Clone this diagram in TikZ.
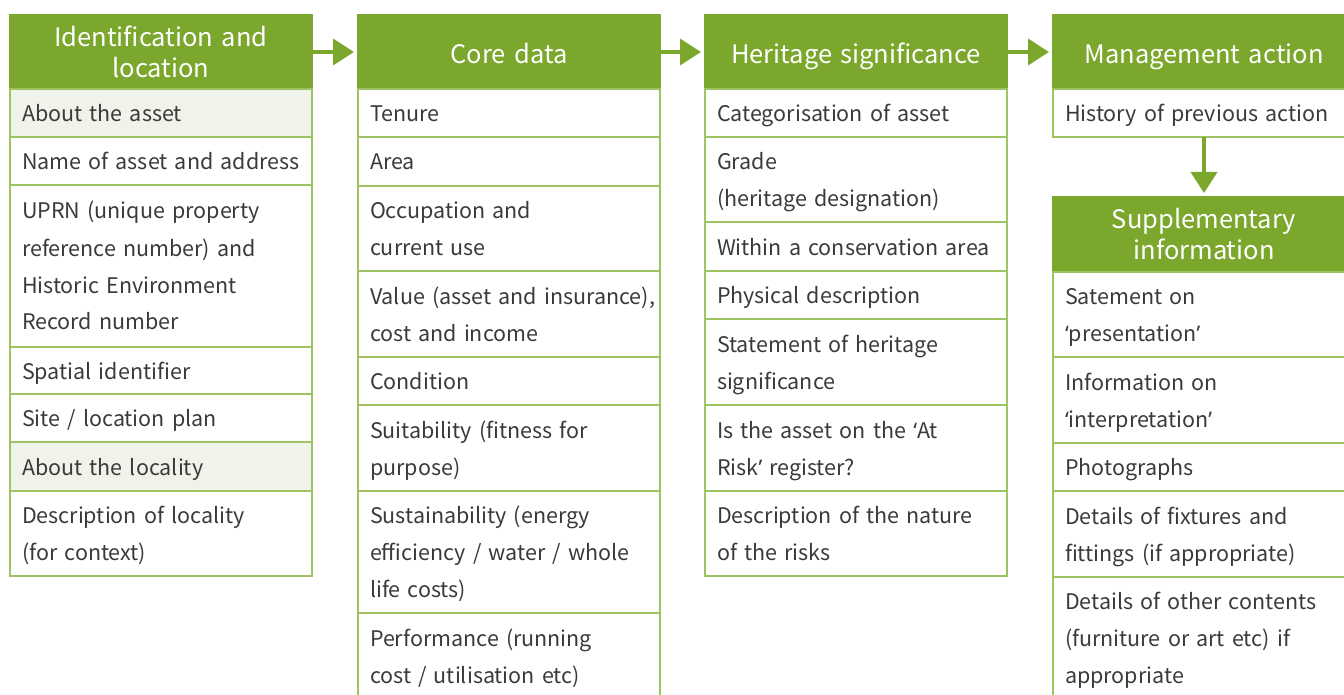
\documentclass[tikz,border=0pt]{standalone}
\usepackage{fontspec}
\setmainfont{Noto Sans CJK SC}
\newfontfamily\qfont{Noto Sans}
\newcommand\qop{{\qfont ‘}}
\newcommand\qcl{{\qfont ’}}
\usetikzlibrary{arrows.meta}
\definecolor{hgreen}{HTML}{7BA72C}
\definecolor{lgreen}{HTML}{9EC462}
\definecolor{rowfill}{HTML}{F0F3E9}
\definecolor{txt}{HTML}{3A3A3A}
\hyphenpenalty=10000
\exhyphenpenalty=10000
\tikzset{
  rowbox/.style={draw=lgreen, line width=1.2pt, anchor=north west, align=left, outer sep=0pt,
    text width=278pt, inner xsep=12pt, inner ysep=0pt, text=txt,
    font=\fontsize{21.5}{37}\selectfont,
    execute at begin node={\rule{0pt}{23pt}},
    execute at end node={\rule[-6pt]{0pt}{6pt}}},
  hdrbox/.style={fill=hgreen, draw=hgreen, line width=1.2pt, anchor=north west, align=center, outer sep=0pt,
    text width=278pt, inner xsep=12pt, inner ysep=0pt, text=white, minimum height=74pt,
    font=\fontsize{25.5}{31}\selectfont},
  onehdr/.style={hdrbox, text height=28pt, text depth=4pt},
  flow/.style={draw=hgreen, line width=4pt, -{Triangle[length=21pt,width=26pt]}, shorten >=4pt},
}
\begin{document}
\begin{tikzpicture}[x=1pt,y=-1pt]
\useasboundingbox (0,0) rectangle (1344,695);
\clip (0,0) rectangle (1344,695);
% Column 1
\node[hdrbox] (h1) at (10,15) {Identification and\\location};
\node[rowbox, fill=rowfill, minimum height=48pt] (a1) at (h1.south west) {About the asset};
\node[rowbox, minimum height=48pt] (a2) at (a1.south west) {Name~of~asset~and~address};
\node[rowbox, minimum height=162pt] (a3) at (a2.south west) {UPRN (unique property\\reference number) and\\Historic Environment\\Record number};
\node[rowbox, minimum height=47pt] (a4) at (a3.south west) {Spatial identifier};
\node[rowbox, minimum height=48pt] (a5) at (a4.south west) {Site / location plan};
\node[rowbox, fill=rowfill, minimum height=49pt] (a6) at (a5.south west) {About the locality};
\node[rowbox, minimum height=85pt] (a7) at (a6.south west) {Description of locality\\(for context)};
% Column 2
\node[onehdr] (h2) at (358,15) {Core data};
\node[rowbox, minimum height=48pt] (b1) at (h2.south west) {Tenure};
\node[rowbox, minimum height=49pt] (b2) at (b1.south west) {Area};
\node[rowbox, minimum height=85pt] (b3) at (b2.south west) {Occupation and\\current use};
\node[rowbox, minimum height=86pt] (b4) at (b3.south west) {Value~(asset~and~insurance),\\cost and income};
\node[rowbox, minimum height=48pt] (b5) at (b4.south west) {Condition};
\node[rowbox, minimum height=86pt] (b6) at (b5.south west) {Suitability~(fitness~for\\purpose)};
\node[rowbox, minimum height=122pt] (b7) at (b6.south west) {Sustainability~(energy\\efficiency~/~water~/~whole\\life costs)};
\node[rowbox, minimum height=86pt] (b8) at (b7.south west) {Performance~(running\\cost~/~utilisation~etc)};
% Column 3
\node[onehdr] (h3) at (705,15) {Heritage significance};
\node[rowbox, minimum height=48pt] (c1) at (h3.south west) {Categorisation~of~asset};
\node[rowbox, minimum height=85pt] (c2) at (c1.south west) {Grade\\(heritage~designation)};
\node[rowbox, minimum height=49pt] (c3) at (c2.south west) {Within~a~conservation~area};
\node[rowbox, minimum height=48pt] (c4) at (c3.south west) {Physical description};
\node[rowbox, minimum height=86pt] (c5) at (c4.south west) {Statement~of~heritage\\significance};
\node[rowbox, minimum height=86pt] (c6) at (c5.south west) {Is~the~asset~on~the~\qop At\\Risk\qcl{} register?};
\node[rowbox, minimum height=85pt] (c7) at (c6.south west) {Description~of~the~nature\\of the risks};
% Column 4
\node[onehdr] (h4) at (1053,15) {Management action};
\node[rowbox, minimum height=48pt] (d1) at (h4.south west) {History~of~previous~action};
\node[hdrbox, minimum height=75pt] (h5) at (1053,197) {Supplementary\\information};
\node[rowbox, minimum height=85pt] (e1) at (h5.south west) {Satement on\\\qop presentation\qcl};
\node[rowbox, minimum height=86pt] (e2) at (e1.south west) {Information on\\\qop interpretation\qcl};
\node[rowbox, minimum height=48pt] (e3) at (e2.south west) {Photographs};
\node[rowbox, minimum height=86pt] (e4) at (e3.south west) {Details~of~fixtures~and\\fittings~(if~appropriate)};
\node[rowbox, minimum height=122pt] (e5) at (e4.south west) {Details~of~other~contents\\(furniture~or~art~etc)~if\\appropriate};
% Arrows
\draw[flow] (h1.east) -- (h2.west);
\draw[flow] (h2.east) -- (h3.west);
\draw[flow] (h3.east) -- (h4.west);
\draw[flow] (d1.south) -- (h5.north);
\end{tikzpicture}
\end{document}
